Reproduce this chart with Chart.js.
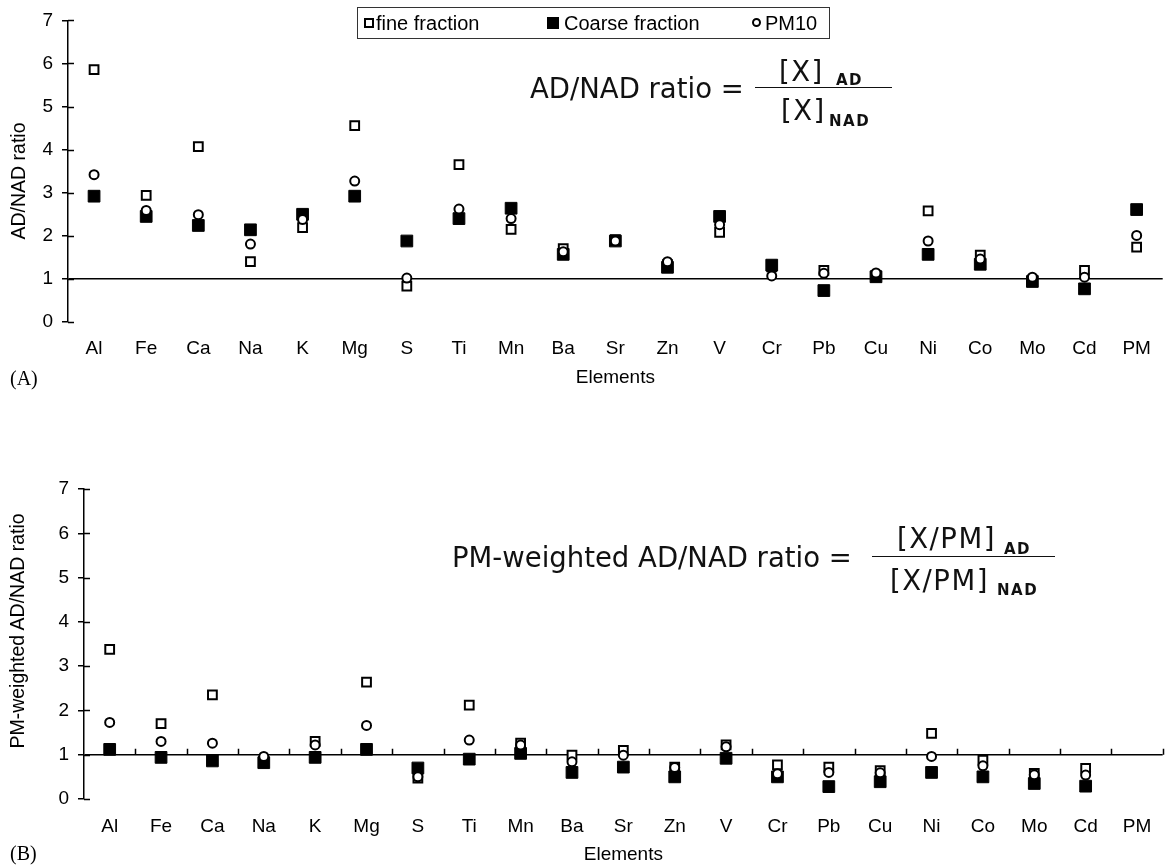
<!DOCTYPE html>
<html>
<head>
<meta charset="utf-8">
<script src="https://cdn.jsdelivr.net/npm/chart.js@4/dist/chart.umd.min.js"></script>
<style>
  body { margin: 0; background: #fff; }
  #wrap { position: relative; width: 1172px; height: 866px; overflow: hidden; font-family: "Liberation Sans", Arial, sans-serif; color: #000; }
  canvas { position: absolute; left: 0; }
  .f { position: absolute; white-space: pre; font-family: "DejaVu Sans", sans-serif; font-size: 27.5px; line-height: 32px; color: #111; }
  .fb { letter-spacing: 1.5px; }
  .sub { position: absolute; white-space: pre; font-family: "DejaVu Sans", sans-serif; font-weight: bold; font-size: 15px; line-height: 18px; letter-spacing: 1.5px; color: #111; }
  .bar { position: absolute; height: 0; border-top: 1.5px solid #111; }
  .ytitle { position: absolute; white-space: nowrap; font-size: 19.5px; transform: translate(-50%, -50%) rotate(-90deg); }
  .panel { position: absolute; font-family: "Liberation Serif", "Times New Roman", serif; font-size: 20px; line-height: 24px; }
  #legend { position: absolute; left: 357px; top: 7px; width: 473px; height: 32px; box-sizing: border-box; border: 1.5px solid #333; }
  .lt { position: absolute; font-size: 20px; line-height: 20px; top: 5px; white-space: pre; }
  .mk { position: absolute; box-sizing: border-box; }
</style>
</head>
<body>
<div id="wrap">
  <canvas id="chartA" width="1172" height="400" style="top:0"></canvas>
  <canvas id="chartB" width="1172" height="446" style="top:420px"></canvas>

  <div id="legend">
    <div class="mk" style="left:6px;top:9.5px;width:10px;height:10px;border:2px solid #000;background:#fff"></div>
    <div class="lt" style="left:18px">fine fraction</div>
    <div class="mk" style="left:189px;top:8.5px;width:12px;height:12px;background:#000"></div>
    <div class="lt" style="left:206px">Coarse fraction</div>
    <div class="mk" style="left:394px;top:10px;width:9px;height:9px;border:2px solid #000;border-radius:50%;background:#fff"></div>
    <div class="lt" style="left:407px">PM10</div>
  </div>

  <div class="f" style="left:530px;top:72px">AD/NAD ratio =</div>
  <div class="f fb" style="left:779px;top:55px">[X]</div>
  <div class="sub" style="left:836px;top:71px">AD</div>
  <div class="bar" style="left:755px;top:87px;width:137px"></div>
  <div class="f fb" style="left:781px;top:94px">[X]</div>
  <div class="sub" style="left:829px;top:112px">NAD</div>

  <div class="f" style="left:452px;top:541px">PM-weighted AD/NAD ratio =</div>
  <div class="f fb" style="left:897px;top:522px">[X/PM]</div>
  <div class="sub" style="left:1004px;top:540px">AD</div>
  <div class="bar" style="left:872px;top:556px;width:183px"></div>
  <div class="f fb" style="left:890px;top:564px">[X/PM]</div>
  <div class="sub" style="left:997px;top:581px">NAD</div>

  <div class="ytitle" style="left:17.5px;top:181px">AD/NAD ratio</div>
  <div class="ytitle" style="left:17px;top:631px">PM-weighted AD/NAD ratio</div>
  <div class="panel" style="left:10px;top:366px">(A)</div>
  <div class="panel" style="left:10px;top:841px">(B)</div>
</div>

<script>
// element order along the x axis
const elements = ['Al', 'Fe', 'Ca', 'Na', 'K', 'Mg', 'S', 'Ti', 'Mn', 'Ba', 'Sr', 'Zn', 'V', 'Cr', 'Pb', 'Cu', 'Ni', 'Co', 'Mo', 'Cd', 'PM'];
const yTicks = [0, 1, 2, 3, 4, 5, 6, 7];

// (A) AD/NAD ratio
const ratioFine   = [5.86, 2.94, 4.07, 1.40, 2.19, 4.56, 0.83, 3.65, 2.15, 1.70, 1.91, 1.33, 2.08, 1.28, 1.20, 1.08, 2.58, 1.55, 0.97, 1.20, 1.74];
const ratioCoarse = [2.92, 2.45, 2.24, 2.14, 2.50, 2.92, 1.88, 2.40, 2.64, 1.57, 1.88, 1.27, 2.45, 1.32, 0.73, 1.05, 1.57, 1.34, 0.94, 0.77, 2.61];
const ratioPM10   = [3.42, 2.59, 2.49, 1.81, 2.38, 3.27, 1.02, 2.62, 2.40, 1.63, 1.88, 1.40, 2.26, 1.07, 1.13, 1.14, 1.88, 1.46, 1.04, 1.04, 2.01];

// (B) PM-weighted AD/NAD ratio (no value for PM itself)
const pwFine   = [3.38, 1.70, 2.35, 0.85, 1.30, 2.64, 0.47, 2.12, 1.26, 0.99, 1.10, 0.72, 1.22, 0.77, 0.72, 0.64, 1.48, 0.88, 0.58, 0.69, null];
const pwCoarse = [1.12, 0.94, 0.86, 0.82, 0.94, 1.12, 0.70, 0.90, 1.03, 0.60, 0.72, 0.50, 0.92, 0.50, 0.28, 0.39, 0.60, 0.50, 0.35, 0.29, null];
const pwPM10   = [1.73, 1.30, 1.26, 0.96, 1.22, 1.66, 0.50, 1.33, 1.22, 0.84, 0.99, 0.71, 1.18, 0.57, 0.60, 0.59, 0.96, 0.75, 0.55, 0.54, null];

Chart.defaults.font.family = '"Liberation Sans", Arial, sans-serif';
Chart.defaults.color = '#000';

// tick marks crossing the y axis, plus category ticks on the y = 1 line
const axisMarks = {
  id: 'axisMarks',
  beforeDatasetsDraw(chart, args, opts) {
    const { ctx, chartArea, scales: { x, y } } = chart;
    ctx.save();
    ctx.strokeStyle = '#000';
    ctx.lineWidth = 1.5;
    ctx.beginPath();
    y.ticks.forEach(t => {
      const py = Math.round(y.getPixelForValue(t.value)) + 0.5;
      ctx.moveTo(chartArea.left, py);
      ctx.lineTo(chartArea.left + 6, py);
    });
    if (opts.catTicks) {
      const py = y.getPixelForValue(1);
      const half = (x.getPixelForValue(1) - x.getPixelForValue(0)) / 2;
      for (let i = 0; i < elements.length; i++) {
        const px = Math.round(x.getPixelForValue(i) + half) + 0.5;
        ctx.moveTo(px, py);
        ctx.lineTo(px, py - 6);
      }
    }
    ctx.stroke();
    ctx.restore();
  }
};

function makeDatasets(fine, coarse, pm10) {
  return [
    { label: 'fine fraction', data: fine, order: 2, showLine: false,
      pointStyle: 'rect', pointRadius: 6.2, pointHoverRadius: 6.2,
      pointBorderWidth: 2, pointBorderColor: '#000', pointBackgroundColor: '#fff' },
    { label: 'Coarse fraction', data: coarse, order: 1, showLine: false,
      pointStyle: 'rect', pointRadius: 8.3, pointHoverRadius: 8.3,
      pointBorderWidth: 1, pointBorderColor: '#000', pointBackgroundColor: '#000' },
    { label: 'PM10', data: pm10, order: 0, showLine: false,
      pointStyle: 'circle', pointRadius: 4.5, pointHoverRadius: 4.5,
      pointBorderWidth: 2, pointBorderColor: '#000', pointBackgroundColor: '#fff' }
  ];
}

function makeChart(id, fine, coarse, pm10, box) {
  return new Chart(document.getElementById(id), {
    type: 'line',
    data: { labels: elements, datasets: makeDatasets(fine, coarse, pm10) },
    options: {
      responsive: false,
      animation: false,
      layout: { padding: { left: 0, right: 3, top: box.top, bottom: 0 } },
      plugins: {
        legend: { display: false },
        tooltip: { enabled: false },
        axisMarks: { catTicks: box.catTicks }
      },
      scales: {
        x: {
          type: 'category',
          offset: true,
          grid: { display: false },
          border: { display: false },
          ticks: { font: { size: 19 }, color: '#000', padding: box.labelPad, autoSkip: false, maxRotation: 0 },
          title: { display: true, text: 'Elements', font: { size: 19 }, color: '#000', padding: { top: 0, bottom: box.titlePad } },
          afterFit: s => { s.height = box.xHeight; }
        },
        y: {
          min: 0,
          max: 7,
          afterBuildTicks: s => { s.ticks = yTicks.map(v => ({ value: v })); },
          ticks: { font: { size: 19 }, color: '#000', padding: 9 },
          grid: {
            color: c => (c.tick && c.tick.value === 1 ? '#000' : 'rgba(0,0,0,0)'),
            lineWidth: 1.5,
            tickColor: '#000',
            tickWidth: 1.5,
            tickLength: 6
          },
          border: { display: true, color: '#000', width: 1.5 },
          afterFit: s => { s.width = box.yWidth; }
        }
      }
    },
    plugins: [axisMarks]
  });
}

makeChart('chartA', ratioFine, ratioCoarse, ratioPM10,
  { top: 16, yWidth: 68, xHeight: 78, labelPad: 7, titlePad: 11, catTicks: false });
makeChart('chartB', pwFine, pwCoarse, pwPM10,
  { top: 69, yWidth: 84, xHeight: 67, labelPad: 8, titlePad: 0, catTicks: true });
</script>
</body>
</html>
